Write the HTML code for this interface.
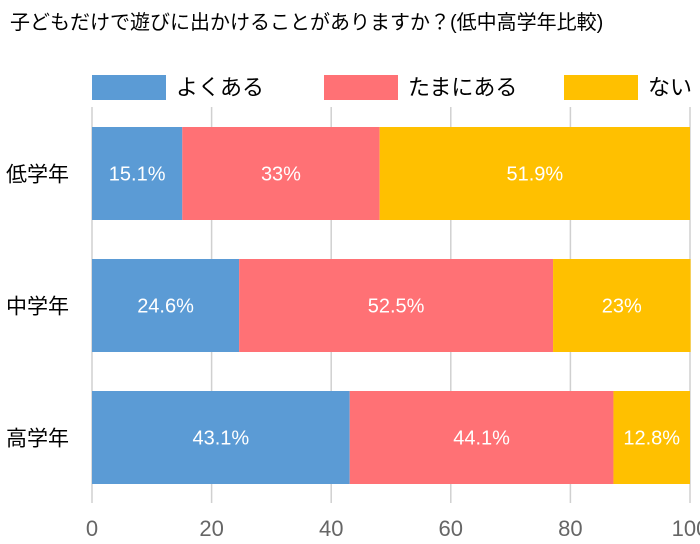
<!DOCTYPE html>
<html><head><meta charset="utf-8"><style>
body{margin:0;background:#fff;}
svg{display:block;font-family:"Liberation Sans","Noto Sans CJK JP",sans-serif;}
</style></head><body>
<svg id="chart" width="700" height="544">
<text x="10" y="29" font-size="20" fill="#000">子どもだけで遊びに出かけることがありますか？(低中高学年比較)</text>
<g id="legend"></g>
<g id="grid"></g>
<g id="bars"></g>
<g id="axis"></g>
</svg>
<script>
const categories = ["低学年", "中学年", "高学年"];
const seriesNames = ["よくある", "たまにある", "ない"];
const often = [15.1, 24.6, 43.1];
const sometimes = [33, 52.5, 44.1];
const never = [51.9, 23, 12.8];
const ticks = [0, 20, 40, 60, 80, 100];
const colors = ["#5b9bd5", "#ff7175", "#ffc000"];
const NS = "http://www.w3.org/2000/svg";
const x = v => 92 + v * 5.98;
const rowTop = i => 127 + i * 132;
const barH = 93;
function mk(tag, attrs, parent){const e=document.createElementNS(NS,tag);for(const k in attrs)e.setAttribute(k,attrs[k]);parent.appendChild(e);return e;}
const grid=document.getElementById('grid'), bars=document.getElementById('bars'), axis=document.getElementById('axis'), legend=document.getElementById('legend');
ticks.forEach(t=>{
  const l=mk('line',{x1:x(t),x2:x(t),y1:107,y2:503,stroke:'#d0d0d0','stroke-width':1.5},grid);
  
  
  const tx=mk('text',{x:x(t),y:536,'text-anchor':'middle','font-size':22,fill:'#666'},axis);
  tx.textContent=t;
  
  
});
const series=[often,sometimes,never];
categories.forEach((c,i)=>{
  const lab=mk('text',{x:6,y:rowTop(i)+barH/2+8,'font-size':21,fill:'#000'},axis);
  lab.textContent=c;
  
  
  let acc=0;
  series.forEach((s,j)=>{
    const v=s[i];
    const r=mk('rect',{x:x(acc),y:rowTop(i),width:x(acc+v)-x(acc),height:barH,fill:colors[j]},bars);
    
    
    const t=mk('text',{x:(x(acc)+x(acc+v))/2,y:rowTop(i)+barH/2+7,'text-anchor':'middle','font-size':20,fill:'#fff'},bars);
    t.textContent=v+'%';
    
    
    acc+=v;
  });
});
const lx=[92,324,564];
seriesNames.forEach((n,j)=>{
  const r=mk('rect',{x:lx[j],y:75,width:74,height:25,fill:colors[j]},legend);
  
  
  const t=mk('text',{x:lx[j]+84,y:95,'font-size':22,fill:'#000'},legend);
  t.textContent=n;
  
  
});
</script>
</body></html>
